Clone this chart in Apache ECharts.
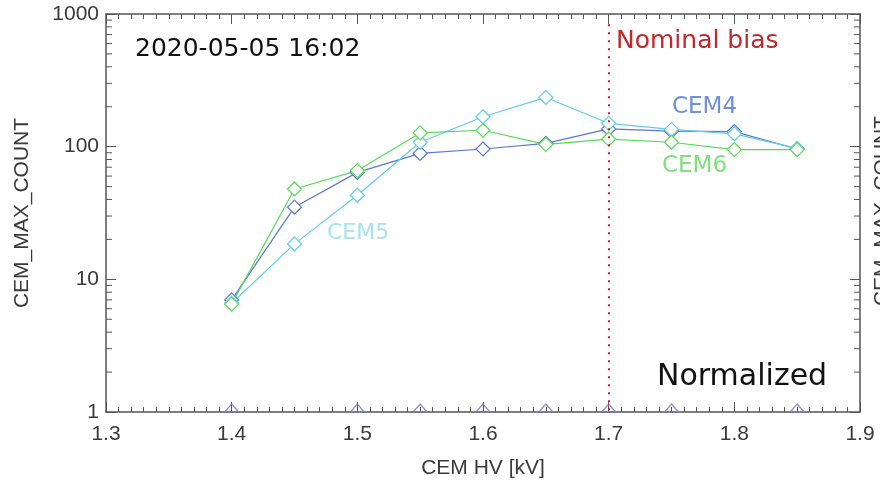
<!DOCTYPE html>
<html><head><meta charset="utf-8">
<script src="https://cdn.jsdelivr.net/npm/echarts@6/dist/echarts.min.js"></script>
<style>html,body{margin:0;padding:0;background:#fff}#c{width:880px;height:489px}</style>
</head><body><div id="c"></div>
<script>
const hv = [1.4, 1.45, 1.5, 1.55, 1.6, 1.65, 1.7, 1.75, 1.8, 1.85];
const cem4 = [7.0, 35, 64, 89, 96, 106, 136, 131, 130, 96];
const cem5 = [6.6, 18.5, 43, 108, 168, 235, 150, 135, 125, 97];
const cem6 = [6.5, 48, 66, 127, 133, 104, 114, 108, 95, 95];
const normHv = [1.4, 1.5, 1.55, 1.6, 1.65, 1.7, 1.75, 1.85];
const normVal = [1, 1, 1, 1, 1, 1, 1, 1];
const yMinorTicks = [2,3,4,5,6,7,8,9,20,30,40,50,60,70,80,90,200,300,400,500,600,700,800,900];
const xTickLabels = ['1.3','1.4','1.5','1.6','1.7','1.8','1.9'];
const yTickLabels = ['1','10','100','1000'];
const nominalBias = 1.7;

const FONT = '"Liberation Sans", Arial, sans-serif';
const AX = '#555';
const LBL = '#3a3a3a';
const chart = echarts.init(document.getElementById('c'), null, {renderer: 'canvas'});
const pair = (xs, ys) => xs.map((x, i) => [x, ys[i]]);
const XMIN = 1.3, XMAX = 1.9;

function lineSeries(name, ys, color) {
  return {
    name, type: 'line', data: pair(hv, ys), symbol: 'diamond', symbolSize: 14,
    showSymbol: true, lineStyle: {color, width: 1.2},
    itemStyle: {color: '#fff', borderColor: color, borderWidth: 1.2, opacity: 1},
    z: 3, animation: false
  };
}

chart.setOption({
  animation: false,
  grid: {left: 106, right: 20, top: 14, bottom: 77, containLabel: false},
  xAxis: [{
    type: 'value', min: XMIN, max: XMAX, interval: 0.1,
    axisLine: {show: true, lineStyle: {color: AX, width: 1.5}},
    axisTick: {show: true, inside: true, length: 10, lineStyle: {color: AX}},
    minorTick: {show: true, splitNumber: 10, length: 5, lineStyle: {color: AX}},
    splitLine: {show: false},
    axisLabel: {color: LBL, fontSize: 21, fontFamily: FONT, margin: 12,
      formatter: v => xTickLabels[Math.round((v - XMIN) * 10)] || ''},
    name: 'CEM HV [kV]', nameLocation: 'middle', nameGap: 46,
    nameTextStyle: {color: LBL, fontSize: 21, fontFamily: FONT}
  }, {
    type: 'value', position: 'top', min: XMIN, max: XMAX, interval: 0.1,
    axisLine: {show: true, lineStyle: {color: AX, width: 1.5}},
    axisTick: {show: true, inside: true, length: 10, lineStyle: {color: AX}},
    minorTick: {show: true, splitNumber: 10, length: 5, lineStyle: {color: AX}},
    splitLine: {show: false}, axisLabel: {show: false}
  }],
  yAxis: [{
    type: 'log', logBase: 10, min: 1, max: 1000,
    axisLine: {show: true, lineStyle: {color: AX, width: 1.5}},
    axisTick: {show: true, inside: true, length: 10, lineStyle: {color: AX}},
    splitLine: {show: false},
    axisLabel: {color: LBL, fontSize: 21, fontFamily: FONT, margin: 7,
      formatter: v => yTickLabels[Math.round(Math.log10(v))] || ''},
    name: 'CEM_MAX_COUNT', nameLocation: 'middle', nameGap: 73, nameRotate: 90,
    nameTextStyle: {color: LBL, fontSize: 21, fontFamily: FONT}
  }, {
    type: 'log', logBase: 10, min: 1, max: 1000, position: 'right',
    axisLine: {show: true, lineStyle: {color: AX, width: 1.5}},
    axisTick: {show: true, inside: true, length: 10, lineStyle: {color: AX}},
    splitLine: {show: false}, axisLabel: {show: false}
  }],
  series: [
    {
      type: 'custom', coordinateSystem: 'cartesian2d', silent: true, clip: false, z: 2,
      data: yMinorTicks.map(v => [XMIN, v]),
      renderItem: (params, api) => {
        const v = api.value(1);
        const l = api.coord([XMIN, v]);
        const r = api.coord([XMAX, v]);
        const st = {stroke: AX, lineWidth: 1};
        return {type: 'group', children: [
          {type: 'line', shape: {x1: l[0], y1: l[1], x2: l[0] + 6, y2: l[1]}, style: st},
          {type: 'line', shape: {x1: r[0], y1: r[1], x2: r[0] - 6, y2: r[1]}, style: st}
        ]};
      }
    },
    lineSeries('CEM4', cem4, '#5a78d2'),
    lineSeries('CEM5', cem5, '#62cce8'),
    lineSeries('CEM6', cem6, '#55dc55'),
    {
      name: 'norm', type: 'scatter', data: pair(normHv, normVal), symbol: 'triangle',
      symbolSize: [14, 8], symbolOffset: [0, -4],
      itemStyle: {color: 'rgba(255,255,255,0)', borderColor: '#7a72c8', borderWidth: 1.2},
      z: 4, clip: false
    },
    {
      type: 'line', data: [], silent: true,
      markLine: {
        symbol: ['none', 'none'], silent: true, label: {show: false},
        lineStyle: {color: '#d42020', type: [2, 6], width: 2},
        data: [[{coord: [nominalBias, 1.03]}, {coord: [nominalBias, 900]}]]
      }
    }
  ],
  graphic: [
    {type: 'text', left: 135, top: 37, style: {text: '2020-05-05 16:02', fill: '#111', font: '25px "DejaVu Sans", sans-serif'}},
    {type: 'text', left: 616, top: 29, style: {text: 'Nominal bias', fill: '#c0282c', font: '25px "DejaVu Sans", sans-serif'}},
    {type: 'text', left: 672, top: 96, style: {text: 'CEM4', fill: '#6f8fda', font: '23px "DejaVu Sans", sans-serif'}},
    {type: 'text', left: 662, top: 155, style: {text: 'CEM6', fill: '#7ee07e', font: '23px "DejaVu Sans", sans-serif'}},
    {type: 'text', left: 327, top: 222, style: {text: 'CEM5', fill: '#a6e2f0', font: '22px "DejaVu Sans", sans-serif'}},
    {type: 'text', left: 657, top: 362, style: {text: 'Normalized', fill: '#111', font: '30px "DejaVu Sans", sans-serif'}},
    {type: 'text', x: 882, y: 211, rotation: Math.PI / 2,
      style: {text: 'CEM_MAX_COUNT', fill: LBL, font: '21px "Liberation Sans", Arial, sans-serif', align: 'center', verticalAlign: 'middle'}}
  ]
});
</script></body></html>
